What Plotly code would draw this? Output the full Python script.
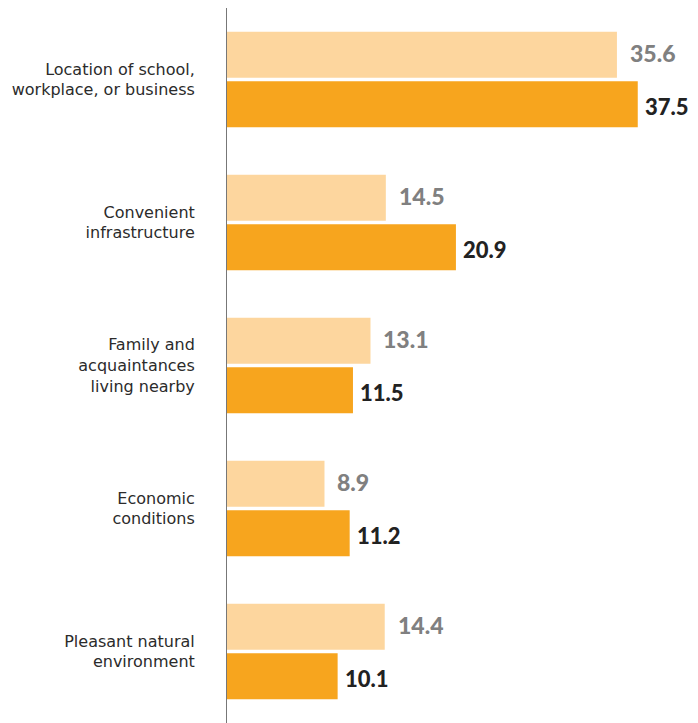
import plotly.graph_objects as go

categories = [
    "Location of school,<br>workplace, or business",
    "Convenient<br>infrastructure",
    "Family and<br>acquaintances<br>living nearby",
    "Economic<br>conditions",
    "Pleasant natural<br>environment",
]
series_light = [35.6, 14.5, 13.1, 8.9, 14.4]
series_dark = [37.5, 20.9, 11.5, 11.2, 10.1]

LIGHT = "#FDD69E"
DARK = "#F7A51E"

fig = go.Figure()
fig.add_trace(go.Bar(y=categories, x=series_light, orientation="h",
                     marker=dict(color=LIGHT, line=dict(width=0)),
                     offsetgroup="a", name="light", hoverinfo="skip"))
fig.add_trace(go.Bar(y=categories, x=series_dark, orientation="h",
                     marker=dict(color=DARK, line=dict(width=0)),
                     offsetgroup="b", name="dark", hoverinfo="skip"))

annotations = []
for i, c in enumerate(categories):
    annotations.append(dict(x=series_light[i], y=c, xref="x", yref="y",
                            text=f"{series_light[i]}", showarrow=False,
                            xanchor="left", xshift=11, yshift=26.5,
                            font=dict(family="Lato", size=23, color="#808080", weight=900)))
    annotations.append(dict(x=series_dark[i], y=c, xref="x", yref="y",
                            text=f"{series_dark[i]}", showarrow=False,
                            xanchor="left", xshift=5, yshift=-26.5,
                            font=dict(family="Lato", size=22, color="#222222", weight=900)))

# page body has an 8px default margin; size the figure to fill the window
fig.update_layout(
    width=690, height=715,
    margin=dict(l=219, r=0, t=0, b=0, autoexpand=False),
    paper_bgcolor="white", plot_bgcolor="white",
    barmode="group", bargap=0.308, bargroupgap=0.07,
    showlegend=False,
    annotations=annotations,
    xaxis=dict(range=[0, 43], showgrid=False, zeroline=False,
               showticklabels=False, showline=False, fixedrange=True,
               automargin=False),
    yaxis=dict(autorange="reversed", showgrid=False, zeroline=False,
               showline=True, linecolor="#777777", linewidth=1,
               ticks="", ticklabelstandoff=28, automargin=False,
               tickfont=dict(family="DejaVu Sans", size=16, color="#2b2b2b")),
)

fig.write_html("out.html")
